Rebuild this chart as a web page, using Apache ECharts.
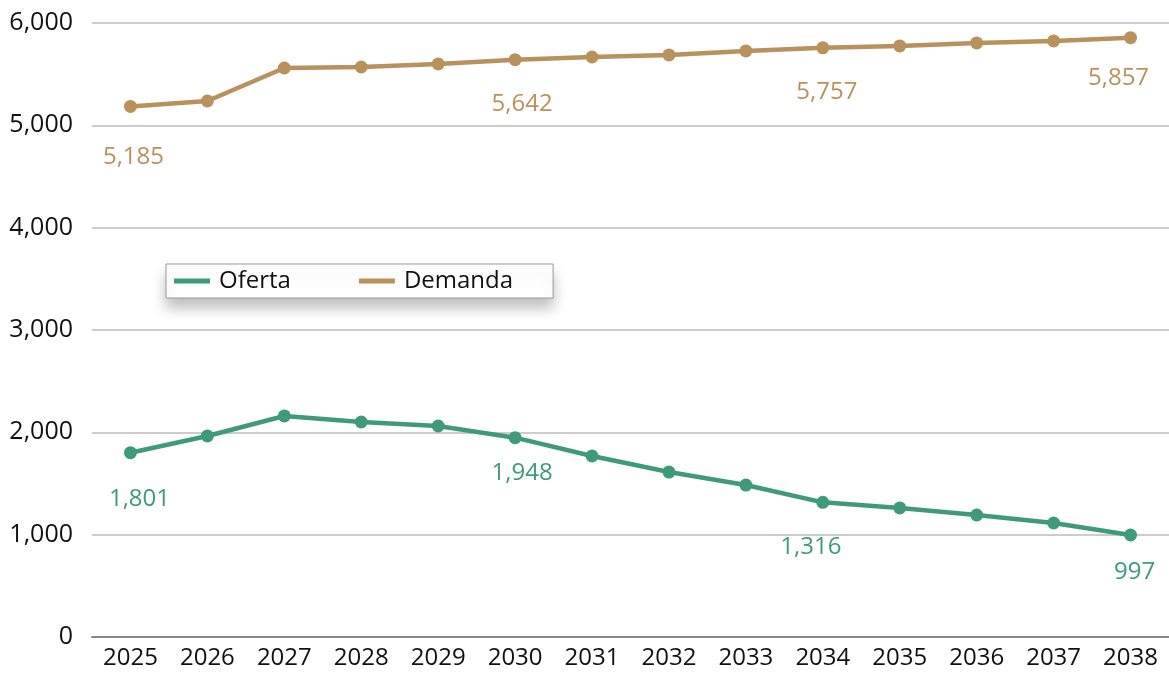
<!DOCTYPE html>
<html>
<head>
<meta charset="utf-8">
<script src="https://cdn.jsdelivr.net/npm/echarts@6/dist/echarts.min.js"></script>
<style>
  html, body { margin: 0; padding: 0; background: #fff; }
  #chart { width: 1169px; height: 673px; }
</style>
</head>
<body>
<div id="chart"></div>
<script>
  // datos
  var years = ['2025', '2026', '2027', '2028', '2029', '2030', '2031', '2032', '2033', '2034', '2035', '2036', '2037', '2038']
  var oferta = [1801, 1964, 2160, 2101, 2062, 1948, 1769, 1612, 1485, 1316, 1261, 1192, 1114, 997]
  var demanda = [5185, 5238, 5560, 5570, 5600, 5642, 5668, 5688, 5727, 5757, 5776, 5805, 5825, 5857]
  // solo estos puntos llevan etiqueta
  var labelled = [0, 5, 9, 13]

  var green = '#3f9a7a'
  var tan = '#b8915c'
  var font = '"Open Sans", "Noto Sans", sans-serif'

  // pequeños ajustes de posición de las etiquetas (como en el original)
  var ofertaShift = { 0: [9, 3], 5: [7, -8], 9: [-12, 1], 13: [4, -6] }
  var demandaShift = { 0: [3, 7], 5: [7, 1], 9: [4, 1], 13: [-12, -3] }

  function withLabels (values, shift) {
    return values.map(function (v, i) {
      var item = { value: v }
      if (shift[i]) item.label = { offset: shift[i] }
      return item
    })
  }

  function labelFor (color) {
    return {
      show: true,
      position: 'bottom',
      distance: 25,
      color: color,
      fontSize: 24,
      fontFamily: font,
      formatter: function (p) {
        if (labelled.indexOf(p.dataIndex) < 0) return ''
        return p.value.toLocaleString('en-US')
      }
    }
  }

  var myChart = echarts.init(document.getElementById('chart'))
  myChart.setOption({
    animation: false,
    grid: { left: 92, right: -4, top: 23, bottom: 36, containLabel: false },
    legend: {
      data: ['Oferta', 'Demanda'],
      left: 166,
      top: 264,
      padding: [5, 40, 5, 8],
      itemGap: 68,
      itemWidth: 36,
      itemHeight: 5,
      backgroundColor: '#fff',
      borderColor: '#999',
      borderWidth: 1,
      shadowColor: 'rgba(0,0,0,0.25)',
      shadowBlur: 14,
      shadowOffsetY: 10,
      icon: 'rect',
      textStyle: { fontSize: 24, color: '#111', fontFamily: font, padding: [0, 0, 0, 4] }
    },
    xAxis: {
      type: 'category',
      data: years,
      boundaryGap: true,
      axisLine: { lineStyle: { color: '#888', width: 2 } },
      axisTick: { show: false },
      axisLabel: { fontSize: 24, color: '#111', fontFamily: font, margin: 9 }
    },
    yAxis: {
      type: 'value',
      min: 0,
      max: 6000,
      interval: 1000,
      axisLine: { show: false },
      axisTick: { show: false },
      splitLine: { lineStyle: { color: '#cccccc', width: 2 } },
      axisLabel: {
        fontSize: 25,
        color: '#111',
        fontFamily: font,
        margin: 19,
        formatter: function (v) { return v.toLocaleString('en-US') }
      }
    },
    series: [
      {
        name: 'Oferta',
        type: 'line',
        data: withLabels(oferta, ofertaShift),
        symbol: 'circle',
        symbolSize: 13,
        itemStyle: { color: green },
        lineStyle: { color: green, width: 4.5 },
        label: labelFor(green)
      },
      {
        name: 'Demanda',
        type: 'line',
        data: withLabels(demanda, demandaShift),
        symbol: 'circle',
        symbolSize: 13,
        itemStyle: { color: tan },
        lineStyle: { color: tan, width: 4.5 },
        label: labelFor(tan)
      }
    ]
  })
</script>
</body>
</html>
